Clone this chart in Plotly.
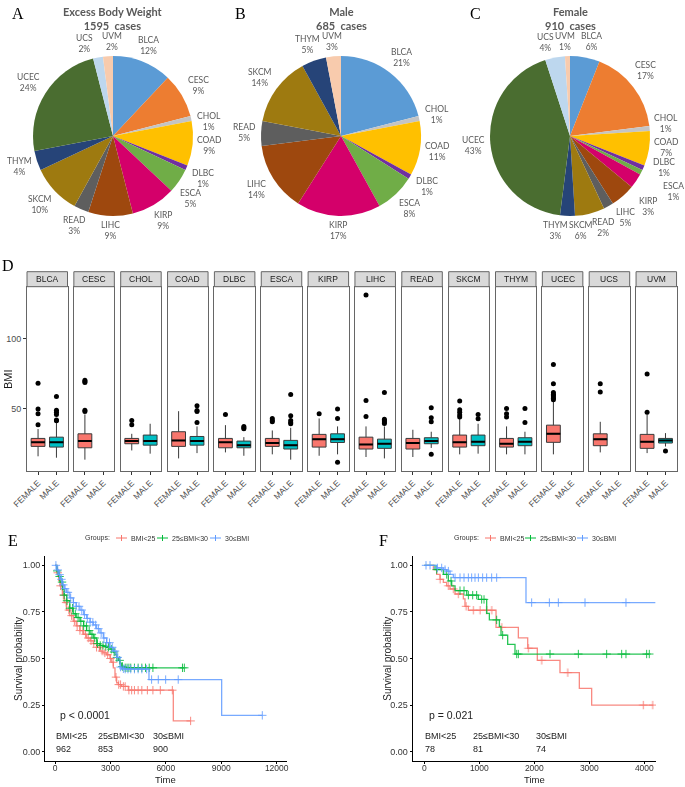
import math
import plotly.graph_objects as go

W, H = 685, 787


def px(x):
    return x / W


def py(y):
    return 1 - y / H


# ---------------- data ----------------
cancers = ['BLCA', 'CESC', 'CHOL', 'COAD', 'DLBC', 'ESCA', 'KIRP',
           'LIHC', 'READ', 'SKCM', 'THYM', 'UCEC', 'UCS', 'UVM']
pie_colors = ['#5B9BD5', '#ED7D31', '#C4C4C4', '#FFC000', '#7030A0', '#70AD47', '#D4006A',
              '#9E480E', '#5E5E5E', '#9E7A10', '#264478', '#4A6D30', '#BDD7EE', '#F8CBAD']

ebw_pct = [12, 9, 1, 9, 1, 5, 9, 9, 3, 10, 4, 24, 2, 2]
male_pct = [21, 0, 1, 11, 1, 8, 17, 14, 5, 14, 5, 0, 0, 3]
female_pct = [6, 17, 1, 7, 1, 1, 3, 5, 2, 6, 3, 43, 4, 1]
pie_titles = ['Excess Body Weight', 'Male', 'Female']
pie_cases = [1595, 685, 910]

sexes = ['FEMALE', 'MALE']
# female BMI box stats
f_low = [16, 13.6, 20.2, 14.5, 18.8, 17.4, 16.4, 15.5, 15.5, 17.4, 17.4, 17.4, 18.8, 18.3]
f_q1 = [23.1, 22.1, 25, 23.1, 22.1, 23.1, 22.6, 21.2, 21.2, 22.6, 22.6, 26, 23.6, 21.7]
f_med = [26, 26.9, 26.9, 27.4, 26, 25.5, 28.3, 24.5, 25.5, 26, 25, 32.1, 28.3, 26.4]
f_q3 = [28.8, 32.1, 28.8, 33.6, 28.8, 28.8, 31.7, 29.7, 28.8, 31.2, 28.8, 38.3, 32.1, 31.7]
f_high = [35.5, 46, 32.1, 48.3, 38.3, 34.5, 43.1, 37.4, 35, 43, 37.4, 55, 40.7, 46]
f_out = [[38.6, 46.4, 49.8, 68.3], [48, 49, 68.8, 69.5, 70.5], [38.6, 41.7], [], [46],
         [40.7, 41.7, 43.1], [46.4], [44.5, 55.9, 131.4], [], [44.1, 45.5, 47.6, 49.3, 55.5],
         [44.1, 46.4, 50.2], [56.5, 57.5, 58.5, 59.5, 60.5, 61.7, 67.9, 81.7], [62.1, 67.9], [47.6, 75]]
# male BMI box stats (None = no male cases)
m_low = [15, None, 17.9, 18.3, 16.4, 13.6, 17.4, 14.5, 22, 17.9, 17.4, None, None, 23]
m_q1 = [22.6, None, 24, 24, 22.1, 21.2, 25.9, 21.7, 25, 23.6, 23.6, None, None, 25.5]
m_med = [26, None, 26.9, 26.9, 24, 24, 28.3, 25, 26.9, 26.4, 26.4, None, None, 27.4]
m_q3 = [29.7, None, 31.2, 30.2, 26.9, 27.4, 32.1, 28.3, 29.3, 31.2, 29.3, None, None, 28.8]
m_high = [39.8, None, 39.3, 37.4, 29.7, 36.4, 37.4, 37.4, 33.6, 39.3, 33.6, None, None, 32.6]
m_out = [[41.5, 42, 46, 47.5, 49, 58.8], [], [], [40.2, 48, 48.8, 52.1], [35.8, 36.5, 37.4],
         [39.3, 40.2, 41.7, 45, 60.2], [11.7, 43.1, 49.8], [39.5, 40.5, 41.5, 42.6, 61.7],
         [17.4, 40.7, 43.6, 50.7], [42.9, 46], [40.2, 50.2], [], [], [19.8]]

groups = ['BMI<25', '25≤BMI<30', '30≤BMI']
group_colors = ['#F8766D', '#00BA38', '#619CFF']

# KM panel E (all cases)
e_time = [
    [0, 100, 200, 270, 400, 500, 630, 800, 990, 1150, 1350, 1550, 1714, 1900, 2075, 2250, 2435,
     2600, 2796, 2977, 3070, 3157, 3247, 3337, 3428, 3600, 3969, 6404, 7342],
    [0, 100, 200, 270, 400, 500, 630, 800, 990, 1150, 1350, 1550, 1714, 1900, 2075, 2255, 2435,
     2616, 2796, 2977, 3157, 3247, 3337, 3428, 3518, 3608, 3788, 7000],
    [0, 100, 200, 270, 400, 500, 631, 800, 992, 1150, 1353, 1550, 1714, 1900, 2075, 2250, 2435,
     2616, 2796, 2977, 3157, 3337, 3518, 3608, 3788, 5087, 9020, 11221],
]
e_surv = [
    [1, 0.96, 0.92, 0.89, 0.84, 0.80, 0.76, 0.73, 0.70, 0.675, 0.65, 0.63, 0.61, 0.595, 0.58,
     0.56, 0.54, 0.53, 0.52, 0.50, 0.48, 0.45, 0.40, 0.37, 0.36, 0.35, 0.33, 0.165, 0.165],
    [1, 0.97, 0.94, 0.91, 0.87, 0.84, 0.81, 0.77, 0.74, 0.72, 0.70, 0.675, 0.65, 0.63, 0.61,
     0.58, 0.57, 0.565, 0.56, 0.55, 0.535, 0.52, 0.505, 0.49, 0.475, 0.457, 0.45, 0.45],
    [1, 0.975, 0.95, 0.925, 0.895, 0.875, 0.855, 0.825, 0.80, 0.78, 0.76, 0.735, 0.715, 0.695,
     0.68, 0.66, 0.637, 0.61, 0.585, 0.56, 0.54, 0.506, 0.454, 0.445, 0.443, 0.387, 0.195, 0.195],
]
e_cens = [
    [150, 300, 450, 600, 750, 900, 1050, 1200, 1350, 1500, 1650, 1800, 1950, 2100, 2250, 2400,
     2550, 2700, 2850, 3000, 3150, 3300, 3450, 3550, 3700, 3800, 4000, 4150, 4300, 4500, 4700,
     5000, 5300, 5700, 6350, 7342],
    [120, 250, 380, 500, 650, 800, 950, 1100, 1250, 1400, 1550, 1700, 1850, 2000, 2150, 2300,
     2450, 2600, 2750, 2900, 3050, 3200, 3350, 3500, 3650, 3800, 3900, 4000, 4100, 4300, 4500,
     4700, 4900, 5100, 5300, 6900, 7000],
    [50, 150, 250, 350, 450, 550, 700, 850, 1000, 1150, 1300, 1450, 1600, 1750, 1900, 2050,
     2200, 2350, 2500, 2650, 2800, 2950, 3100, 3250, 3400, 3550, 3700, 3800, 3950, 4100, 4300,
     4500, 4700, 4960, 5230, 5590, 5990, 6670, 11221],
]
e_risk = [962, 853, 900]
e_risk_x = [0, 2255, 5230]
e_pval = 'p < 0.0001'

# KM panel F
f_time = [
    [0, 164, 224, 285, 345, 406, 467, 558, 709, 739, 800, 1303, 1709, 1879, 2054, 2466, 2818,
     3042, 4163],
    [0, 194, 345, 436, 497, 558, 770, 982, 1133, 1182, 1364, 1394, 1515, 1648, 4090],
    [0, 224, 345, 406, 467, 527, 1848, 4200],
]
f_surv = [
    [1, 0.977, 0.951, 0.925, 0.908, 0.89, 0.873, 0.846, 0.82, 0.78, 0.759, 0.667, 0.611, 0.555,
     0.49, 0.424, 0.34, 0.25, 0.25],
    [1, 0.977, 0.951, 0.916, 0.89, 0.864, 0.84, 0.817, 0.742, 0.707, 0.672, 0.625, 0.576, 0.524,
     0.524],
    [1, 0.986, 0.977, 0.969, 0.951, 0.934, 0.80, 0.80],
]
f_cens = [
    [285, 436, 527, 618, 757, 891, 1012, 1133, 1224, 1406, 1891, 2133, 2606, 3981, 4151],
    [224, 406, 485, 648, 721, 800, 879, 951, 1042, 1085, 1315, 1424, 1679, 1709, 2285, 2800,
     3315, 3588, 3666, 4042, 4090],
    [30, 103, 236, 315, 376, 436, 558, 648, 721, 800, 860, 921, 982, 1060, 1133, 1224, 1315,
     1951, 2273, 2436, 2921, 3666],
]
f_risk = [78, 81, 74]
f_risk_x = [0, 860, 2012]
f_pval = 'p = 0.021'

SANS = 'Liberation Sans'
SERIF = 'Liberation Serif'
PIE_FONT = 'Lato'

fig = go.Figure()
annotations = []
shapes = []
layout_axes = {}


def step_value(times, surv, t):
    v = surv[0]
    for tt, ss in zip(times, surv):
        if tt <= t:
            v = ss
    return v


def text_note(x, y, text, size, color='#222222', family=SANS, xanchor='center', angle=0,
              xref='paper', yref='paper', yanchor='middle'):
    annotations.append(dict(
        x=x, y=y, xref=xref, yref=yref, text=text, showarrow=False, textangle=angle,
        font=dict(family=family, size=size, color=color), xanchor=xanchor, yanchor=yanchor,
        borderpad=0
    ))


def paper_line(x0, y0, x1, y1, color, width=1):
    shapes.append(dict(type='line', xref='paper', yref='paper',
                       x0=px(x0), y0=py(y0), x1=px(x1), y1=py(y1),
                       line=dict(color=color, width=width)))


# ---------------- pies (A, B, C) ----------------
pie_centers = [(113, 136), (341, 136), (570, 136)]
pie_r = 80
# label nudges for crowded small slices: (degrees, extra px)
label_nudge = [
    {'UCS': (-6, 0), 'UVM': (3, 0), 'CHOL': (4, 0), 'DLBC': (2, 0), 'ESCA': (5, 0)},
    {},
    {'BLCA': (2, 0), 'CESC': (-3, 0), 'CHOL': (-2, 0), 'COAD': (-2, 0), 'DLBC': (-5, 0),
     'ESCA': (1, 18), 'KIRP': (8, 6), 'LIHC': (7, 0), 'READ': (9, 0), 'SKCM': (8, 0),
     'THYM': (7, 0), 'UCS': (-4, 0), 'UVM': (-1, 0)},
]
for k, vals in enumerate([ebw_pct, male_pct, female_pct]):
    labs = [c for c, v in zip(cancers, vals) if v]
    cols = [col for col, v in zip(pie_colors, vals) if v]
    vv = [v for v in vals if v]
    cx, cy = pie_centers[k]
    fig.add_trace(go.Pie(
        labels=labs, values=vv,
        marker=dict(colors=cols, line=dict(width=0)),
        domain=dict(x=[px(cx - pie_r), px(cx + pie_r)], y=[py(cy + pie_r), py(cy - pie_r)]),
        sort=False, direction='clockwise', rotation=0,
        textinfo='none', showlegend=False, hoverinfo='label+value'
    ))
    total = sum(vv)
    cum = 0
    for lab, v in zip(labs, vv):
        dth, dr = label_nudge[k].get(lab, (0, 0))
        th = math.radians(360 * (cum + v / 2) / total + dth)
        cum += v
        r_lab = pie_r + 4 + 12 * abs(math.sin(th)) + 10 * abs(math.cos(th)) + dr
        lx = cx + r_lab * math.sin(th)
        ly = cy - r_lab * math.cos(th)
        text_note(px(lx), py(ly), f'{lab}<br>{v}%', 8.5, color='#595959', family=PIE_FONT)
    text_note(px(cx), py(19), f'<b>{pie_titles[k]}<br>{pie_cases[k]}\u00a0 cases</b>', 11,
              color='#595959', family=PIE_FONT)

# ---------------- box plot facets (D) ----------------
y_range = [5.7, 137.4]
for i, c in enumerate(cancers):
    j = i + 1
    xa = 'x' if j == 1 else f'x{j}'
    ya = 'y' if j == 1 else f'y{j}'
    left = 27 + i * 46.85
    right = left + 40.5
    stats = [(f_low[i], f_q1[i], f_med[i], f_q3[i], f_high[i], f_out[i], '#F8766D'),
             (m_low[i], m_q1[i], m_med[i], m_q3[i], m_high[i], m_out[i], '#00BFC4')]
    for pos, (lo, q1, med, q3, hi, out, col) in enumerate(stats):
        if med is None:
            continue
        fig.add_trace(go.Box(
            x=[pos], q1=[q1], median=[med], q3=[q3], lowerfence=[lo], upperfence=[hi],
            width=0.75, whiskerwidth=0, fillcolor=col, boxpoints=False,
            line=dict(color='#3a3a3a', width=1), xaxis=xa, yaxis=ya, showlegend=False
        ))
        fig.add_trace(go.Scatter(
            x=[pos - 0.375, pos + 0.375], y=[med, med], mode='lines',
            line=dict(color='black', width=2), xaxis=xa, yaxis=ya,
            showlegend=False, hoverinfo='skip'
        ))
        if out:
            fig.add_trace(go.Scatter(
                x=[pos] * len(out), y=out, mode='markers',
                marker=dict(color='black', size=5), xaxis=xa, yaxis=ya, showlegend=False
            ))
    xname = 'xaxis' if j == 1 else f'xaxis{j}'
    yname = 'yaxis' if j == 1 else f'yaxis{j}'
    layout_axes[xname] = dict(
        domain=[px(left), px(right)], anchor=ya, range=[-0.6, 1.6], automargin=False,
        tickvals=[0, 1], ticktext=sexes, tickangle=-45,
        tickfont=dict(family=SANS, size=8.5, color='#4d4d4d'),
        ticks='outside', ticklen=3, tickcolor='#333333',
        showline=True, mirror=True, linecolor='#666666', linewidth=1,
        showgrid=False, zeroline=False
    )
    layout_axes[yname] = dict(
        domain=[py(470.7), py(286.7)], anchor=xa, range=y_range, automargin=False,
        tickvals=[50, 100], showticklabels=(j == 1),
        ticks='outside' if j == 1 else '', ticklen=3, tickcolor='#333333',
        tickfont=dict(family=SANS, size=9, color='#4d4d4d'),
        showline=True, mirror=True, linecolor='#666666', linewidth=1,
        showgrid=False, zeroline=False
    )
    shapes.append(dict(
        type='rect', xref='paper', yref='paper',
        x0=px(left), x1=px(right), y0=py(286.7), y1=py(271.7),
        fillcolor='#D9D9D9', line=dict(color='#666666', width=1)
    ))
    text_note(px((left + right) / 2), py(279.2), c, 8.5, color='#1a1a1a')
text_note(px(8), py(379), 'BMI', 11, color='#1a1a1a', angle=-90)

# ---------------- Kaplan-Meier panels (E, F) ----------------
km_panels = [
    (15, (45, 286.7), [-541, 12541], [0, 3000, 6000, 9000, 12000],
     e_time, e_surv, e_cens, e_risk, e_risk_x, e_pval, 235, 18, [116, 157, 210]),
    (16, (412.7, 656), [-212, 4212], [0, 1000, 2000, 3000, 4000],
     f_time, f_surv, f_cens, f_risk, f_risk_x, f_pval, 73, 386.7, [485, 525, 577]),
]
LEG_Y = 538
for (n, (x0, x1), xr, xt, times, survs, cens, risk, risk_x, pval, pval_x, ytx, leg_x) in km_panels:
    xa, ya = f'x{n}', f'y{n}'
    text_note(px(leg_x[0] - 5), py(LEG_Y), 'Groups:', 7, color='#333333', xanchor='right')
    for g in range(3):
        col = group_colors[g]
        fig.add_trace(go.Scatter(
            x=times[g], y=survs[g], mode='lines', line=dict(color=col, width=1.3, shape='hv'),
            opacity=0.85, xaxis=xa, yaxis=ya, showlegend=False
        ))
        fig.add_trace(go.Scatter(
            x=cens[g], y=[step_value(times[g], survs[g], t) for t in cens[g]], mode='markers',
            marker=dict(symbol='cross-thin', size=6, line=dict(color=col, width=1)),
            opacity=0.85, xaxis=xa, yaxis=ya, showlegend=False
        ))
        text_note(risk_x[g], 0.084, groups[g], 9, xanchor='left', xref=xa, yref=ya)
        text_note(risk_x[g], 0.017, str(risk[g]), 9, xanchor='left', xref=xa, yref=ya)
        # legend key: short line with a cross, then label
        lx = leg_x[g]
        paper_line(lx, LEG_Y, lx + 11, LEG_Y, col)
        paper_line(lx + 5.5, LEG_Y - 3, lx + 5.5, LEG_Y + 3, col)
        text_note(px(lx + 14), py(LEG_Y), groups[g], 7, color='#333333', xanchor='left')
    text_note(pval_x, 0.195, pval, 10.5, xanchor='left', xref=xa, yref=ya)
    text_note(px((x0 + x1) / 2), 0.001, 'Time', 9.5, yanchor='bottom')
    text_note(px(ytx), py(659), 'Survival probability', 10, angle=-90)
    layout_axes[f'xaxis{n}'] = dict(
        domain=[px(x0), px(x1)], anchor=ya, range=xr, tickvals=xt, tickformat='d',
        automargin=False, ticks='outside', ticklen=2, tickcolor='black',
        ticklabelstandoff=-3,
        tickfont=dict(family=SANS, size=8.5, color='#333333'),
        showline=True, linecolor='black', linewidth=1, showgrid=False, zeroline=False
    )
    layout_axes[f'yaxis{n}'] = dict(
        domain=[py(761), py(556)], anchor=xa, range=[-0.05, 1.05],
        tickvals=[0, 0.25, 0.5, 0.75, 1], tickformat='.2f', automargin=False,
        ticks='outside', ticklen=2, tickcolor='black',
        tickfont=dict(family=SANS, size=9, color='#333333'),
        showline=True, linecolor='black', linewidth=1, showgrid=False, zeroline=False
    )

# panel letters
for letter, (lx, ly) in zip('ABCDEF', [(18, 14), (240, 14), (475, 14), (8, 265), (13, 540), (383, 540)]):
    text_note(px(lx), py(ly), letter, 16, color='black', family=SERIF)

fig.update_layout(
    width=W, height=H,
    margin=dict(l=0, r=0, t=0, b=0, autoexpand=False),
    template='none',
    paper_bgcolor='white', plot_bgcolor='white',
    showlegend=False,
    annotations=annotations,
    shapes=shapes,
    **layout_axes
)

# the page body has a default 8px margin; drop it so the figure fills the window
fig.write_html("out.html", config={'displayModeBar': False},
               post_script="document.body.style.margin='0';")
